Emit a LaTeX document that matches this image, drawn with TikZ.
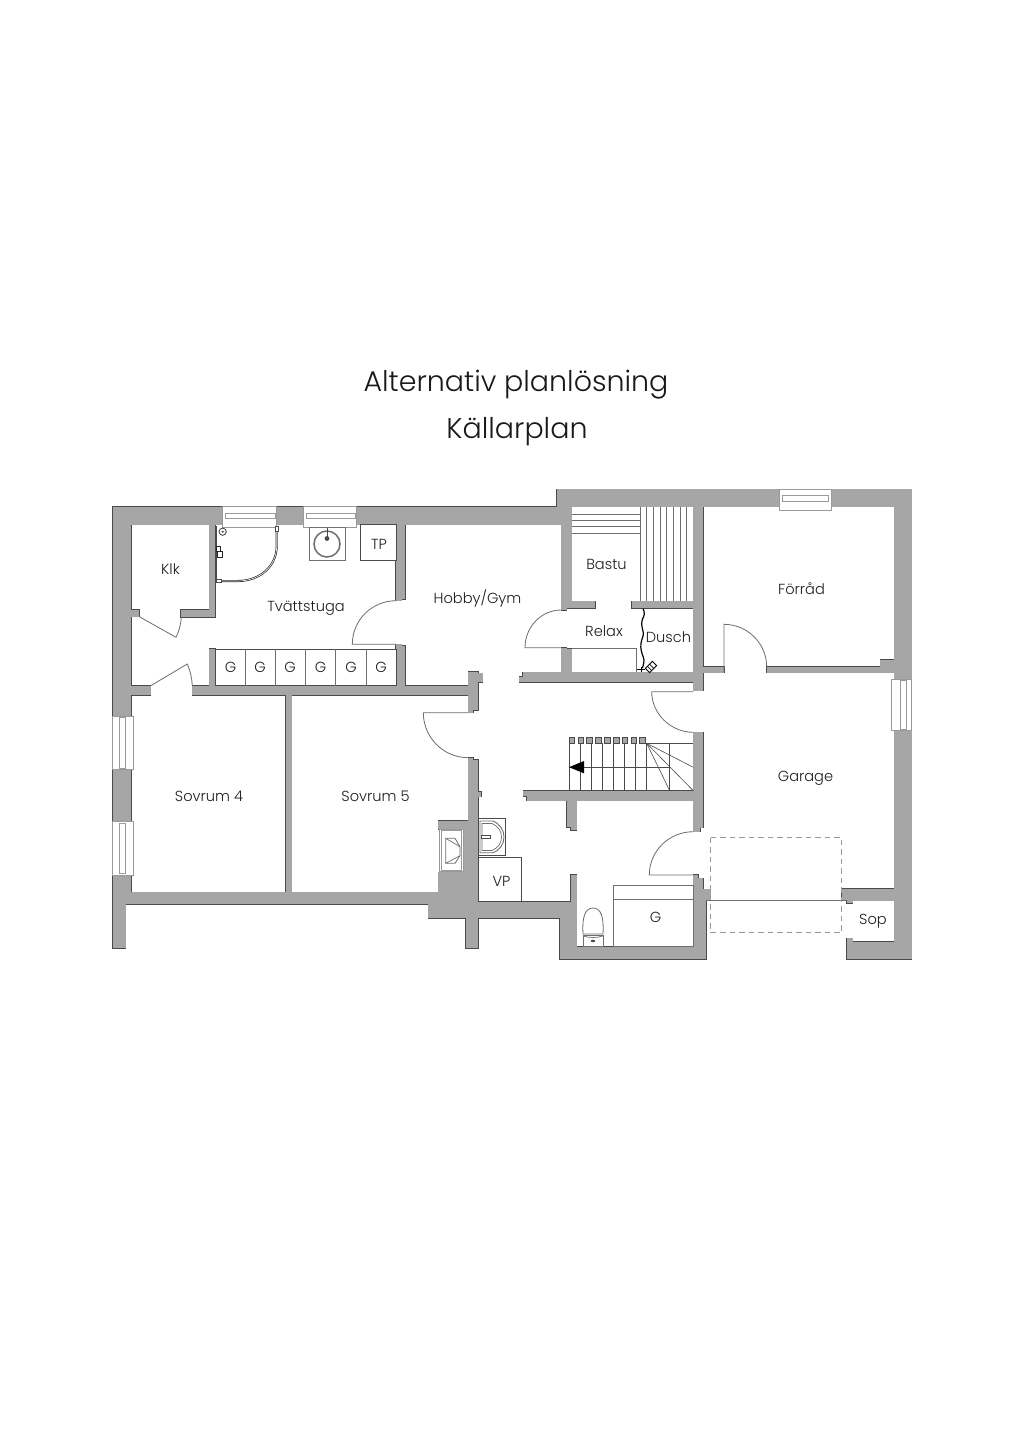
\documentclass[tikz,border=0pt]{standalone}
\usepackage{fontspec}
\setmainfont{Poppins}[UprightFont=* Light]
\definecolor{wallgrey}{HTML}{A6A6A6}
\definecolor{walledge}{HTML}{4A4A4A}
\definecolor{fixline}{HTML}{6E6E6E}
\definecolor{softline}{HTML}{9A9A9A}
\tikzset{
  label/.style={font=\fontsize{14.6}{17}\selectfont,text=black!88,inner sep=0pt,anchor=center,text height=13pt,text depth=3pt},
  titletext/.style={font=\fontsize{28.5}{32}\selectfont,text=black!90,inner sep=0pt,anchor=base},
  thin line/.style={draw=fixline,line width=0.8pt},
  fixture/.style={draw=walledge,line width=0.8pt,fill=white},
  doorleaf/.style={draw=fixline,line width=0.8pt},
  windowbox/.style={draw=softline,line width=0.8pt,fill=white},
  windowpane/.style={draw=softline,line width=0.7pt,fill=white},
  stairline/.style={draw=walledge,line width=0.6pt},
}
\newcommand{\wallset}{113/507/131/892.3, 113/892.3/125.7/948, 113/507/561.3/524.5,
 557/489.3/911.7/506.7, 894.3/489.3/911.7/959.3,
 557/489.3/571.7/524.5, 566.7/507/571.7/608, 561.3/524/566.7/610,
 561.3/649/571.7/672.3, 561.3/647.7/566.7/650,
 571.7/601.3/595/608, 631.7/601.3/694/608,
 522.7/672.3/693.3/682, 519.3/676.7/523/682, 693.3/507/703.3/690.7,
 703.3/666.7/724/672.7, 766.7/666.7/894.3/672.7, 880.3/660/894.3/672.7,
 693.3/732.3/703.3/827.5, 693.3/827/700/831.7,
 526.7/790.7/693.3/800.7, 523.3/790.7/527/796,
 566.7/800.7/576.7/827, 571/826/576.7/830,
 468.3/671.7/478.3/710, 468.3/709/473.3/712.7, 478/673.3/482.7/682.3,
 468.3/757.7/473.3/760, 468.3/759.5/478.3/902, 478/791.7/481.3/796.7,
 463.3/820.7/478.3/902, 438.3/820.7/468/829.3, 438.3/872.3/478.3/904.3,
 125/892.3/470/904.3, 428.3/901.7/576.7/918.3, 466/918/478.3/948.3,
 571/875/576.7/918, 559.7/918/576.7/959.3, 559.7/946.7/706/959.3,
 693.3/875/698.3/889, 693.3/878.3/703.3/900.7, 693.3/889.3/710.7/900.7, 693.3/900.7/706/959.3,
 841.7/888.7/894.3/900.7, 846.7/900/852.7/903.3, 846.7/941.7/911.7/959.3, 846.7/938.3/852.7/942,
 396/524/405/599, 396/598/401.7/600.7, 396/646/405/686, 396/644.3/401.7/647,
 131/685.7/150.7/695, 192.3/685.7/468.3/695, 285.7/695/291.7/892.3,
 209.3/524/215/617.3, 181/610/215/617.3, 131/610/139.3/616.7, 209.3/648.7/215/686}
\newcommand{\treadset}{569,577.85,586.7,595.55,604.4,613.25,622.1,630.95,639.8}
\begin{document}
\begin{tikzpicture}[x=1pt,y=-1pt]
\useasboundingbox (0,0) rectangle (1024,1448);
\fill[white] (0,0) rectangle (1024,1448);
% titles
\node[titletext] (title1) at (516,391.7) {Alternativ planlösning};
\node[titletext] (title2) at (517,438.3) {Källarplan};
% walls: stroke first, then fill over so that only the outer contour stays
\foreach \a/\b/\c/\d in \wallset {\draw[walledge,line width=1.1pt] (\a,\b) rectangle (\c,\d);}
\foreach \a/\b/\c/\d in \wallset {\fill[wallgrey] (\a,\b) rectangle (\c,\d);}
% windows
\foreach \a/\b/\c/\d/\e/\f/\g/\h in {
 222.7/506.7/276/527.3/225/513.3/275/518.3,
 303.3/506.7/356.7/527.3/306/513.3/355/518.3,
 779.7/489.3/831.3/510/782.3/495/828.7/501,
 891/679/911.7/730.7/900/680.5/906/729.3,
 112.7/716/133.3/769.3/119/717.3/125/768,
 112.7/821.5/133.3/875/119/823/125/873.5}{
 \draw[windowbox] (\a,\b) rectangle (\c,\d);
 \draw[windowpane] (\e,\f) rectangle (\g,\h);
}
% doors
\draw[doorleaf] (139.3,616.7) -- (176,637.3) .. controls (179,631) and (181,624) .. (181.3,617.3);
\draw[doorleaf] (150.7,685.7) -- (187.3,664) .. controls (190,670) and (192,678) .. (192.3,685.7);
\draw[doorleaf] (396,644.3) -- (352.3,644.3) .. controls (352.3,620) and (372,600.7) .. (396,600.7);
\draw[doorleaf] (561.3,647.7) -- (525,647.7) .. controls (525,627) and (541,610) .. (561.3,610);
\draw[doorleaf] (724,672) -- (724,624.3) .. controls (747,624.3) and (766.7,643) .. (766.7,667);
\draw[doorleaf] (693.3,691.7) -- (651.7,691.7) .. controls (651.7,714) and (671,732.3) .. (693.3,732.3);
\draw[doorleaf] (693.3,875) -- (649.3,875) .. controls (649.3,851) and (669,831.7) .. (693.3,831.7);
\draw[doorleaf] (468.3,712.7) -- (423.3,712.7) .. controls (423.3,737) and (443,757.7) .. (468.3,757.7);
% garage door and car outline
\draw[doorleaf] (706,900.7) -- (846.7,900.7);
\draw[softline,line width=0.9pt,dash pattern=on 5.5pt off 4pt] (710.7,837.7) rectangle (841.7,932.7);
% Tvattstuga fixtures
\draw[fixture] (360.3,524.5) rectangle (396,560);
\draw[fixline,line width=0.8pt,fill=white] (309.3,527) rectangle (345,560);
\draw[fixline,line width=1.5pt] (327,544) circle[radius=13];
\draw[walledge,line width=0.9pt] (327,527.5) -- (327,538);
\fill[walledge] (327,538.5) circle[radius=2.4];
\draw[fixture] (215,649.3) rectangle (396,685.7);
\foreach \x in {245.3,275.3,305.3,335.7,366}{\draw[thin line] (\x,649.3) -- (\x,685.7);}
% shower
\draw[black!85,line width=2pt] (276.7,527) -- (276.7,546) .. controls (276.7,566) and (260,581) .. (238,581) -- (217,581);
\draw[white,line width=0.6pt] (276.7,530) -- (276.7,546) .. controls (276.7,566) and (260,581) .. (238,581) -- (220,581);
\draw[fixture] (275,526) rectangle (278.3,531);
\draw[fixture] (216,579.8) rectangle (221,582.2);
\draw[walledge,line width=1pt] (216.2,526) -- (216.2,581);
\draw[walledge,line width=0.9pt,fill=white] (222.7,531.7) circle[radius=3.6];
\fill[walledge] (222.7,531.7) circle[radius=1.2];
\draw[black!85,line width=0.9pt,fill=white] (216.5,546) rectangle (220,551);
\draw[black!85,line width=0.9pt,fill=white] (217,551) rectangle (222,557);
% sauna
\foreach \y in {514.3,520,526,533.3}{\draw[thin line] (571.7,\y) -- (640,\y);}
\foreach \x in {640,646.7,653.3,660,666.7,673.3,680,686.7}{\draw[thin line] (\x,507) -- (\x,601.3);}
% relax bench
\draw[thin line] (571.7,648) -- (636.7,648) -- (636.7,672.3);
% shower curtain and head
\draw[black,line width=1.2pt,rounded corners=3pt] (643,608.5) -- (645,614) -- (641.5,621) -- (642,628) -- (644,634) -- (641.5,640) -- (640.5,647) -- (642,654) -- (644.5,660) -- (642.5,668);
\draw[black,line width=1.6pt] (637,669.5) -- (645,669.5);
\draw[black,line width=0.9pt] (641,667) -- (641,672);
\draw[black,line width=0.9pt,fill=white,rotate around={45:(651,667)}] (646,664) rectangle (656,670);
\draw[black,line width=0.7pt,rotate around={45:(651,667)}] (649,664) -- (649,670) (652,664) -- (652,670);
% stairs
\foreach \x in {569,580,591,602.3,613.3,624.3,635.7,646.7}{\draw[stairline] (\x,743.3) -- (\x,790.7);}
\draw[stairline] (646.7,743.3) -- (693.3,743.3);
\draw[stairline] (569,767.3) -- (669.7,767.3);
\draw[stairline] (669.7,743.3) -- (669.7,790.7);
\draw[stairline] (646.7,743.3) -- (669.7,790.7);
\draw[stairline] (646.7,743.3) -- (693.3,790.7);
\draw[stairline] (646.7,743.3) -- (693.3,767.3);
\foreach \x in \treadset {\draw[walledge,line width=0.7pt,fill=wallgrey] (\x,737.3) rectangle ++(5.6,6);}
\fill[black] (569,767.2) -- (584,761) -- (584,773.3) -- cycle;
% basin
\draw[walledge,line width=0.8pt,fill=white] (478.3,818.3) rectangle (505.7,855.7);
\draw[fixline,line width=0.9pt] (480,821) -- (493,821) .. controls (500,824) and (504,830) .. (504,837) .. controls (504,844) and (500,850) .. (493,852.7) -- (480,852.7) -- cycle;
\draw[fixline,line width=0.7pt] (482,823.5) -- (492,823.5) .. controls (498,826) and (501.5,831) .. (501.5,837) .. controls (501.5,843) and (498,848) .. (492,850.5) -- (482,850.5) -- cycle;
\draw[walledge,line width=0.7pt,fill=white] (481,835) rectangle (490,838);
% vp box
\draw[fixture] (478.3,857.3) rectangle (521.7,901.7);
% fireplace
\draw[softline,line width=0.8pt,fill=white] (439.3,829) rectangle (463.3,871.8);
\draw[softline,line width=0.8pt] (441.2,830.8) rectangle (461.7,870);
\draw[fixline,line width=0.8pt] (445.7,838.3) -- (455,838.3) -- (460,846.7) -- (460,855.7) -- (455,863.3) -- (445.7,863.3) -- cycle;
\draw[fixline,line width=0.7pt] (445.7,838.3) -- (460,846.7) (445.7,863.3) -- (460,855.7);
% machine box and toilet
\draw[thin line,fill=white] (613.3,885) rectangle (693.3,946.7);
\draw[thin line] (613.3,899.3) -- (693.3,899.3);
\draw[fixline,line width=0.8pt,fill=white] (583,934) .. controls (582,917) and (585,908) .. (593,908) .. controls (601,908) and (604,917) .. (603,934) -- cycle;
\draw[fixline,line width=0.8pt,fill=white] (583,935) rectangle (603,946.7);
\draw[fixline,line width=0.7pt] (583,936) .. controls (590,938) and (596,938) .. (603,936);
\fill[walledge] (593,941) ellipse[x radius=2.2,y radius=1.2];
% room labels
\node[label] (klk) at (170.5,569) {Klk};
\node[label] (tp) at (379,544) {TP};
\node[label] (tvatt) at (306,606.5) {Tvättstuga};
\node[label] (hobby) at (477.5,598.5) {Hobby/Gym};
\node[label] (bastu) at (606.5,564) {Bastu};
\node[label] (relax) at (604,631) {Relax};
\node[label] (dusch) at (668.5,637) {Dusch};
\node[label] (forrad) at (801.5,589) {Förråd};
\node[label] (garage) at (805.5,776.5) {Garage};
\node[label] (sov4) at (209,796.5) {Sovrum 4};
\node[label] (sov5) at (375.5,796.5) {Sovrum 5};
\node[label] (vp) at (501.5,881.5) {VP};
\node[label] (g7) at (655.5,917.5) {G};
\node[label] (sop) at (873,919.5) {Sop};
\foreach \x [count=\i] in {230.5,260,290,320.5,351,381}{\node[label] (g\i) at (\x,667) {G};}
\end{tikzpicture}
\end{document}
